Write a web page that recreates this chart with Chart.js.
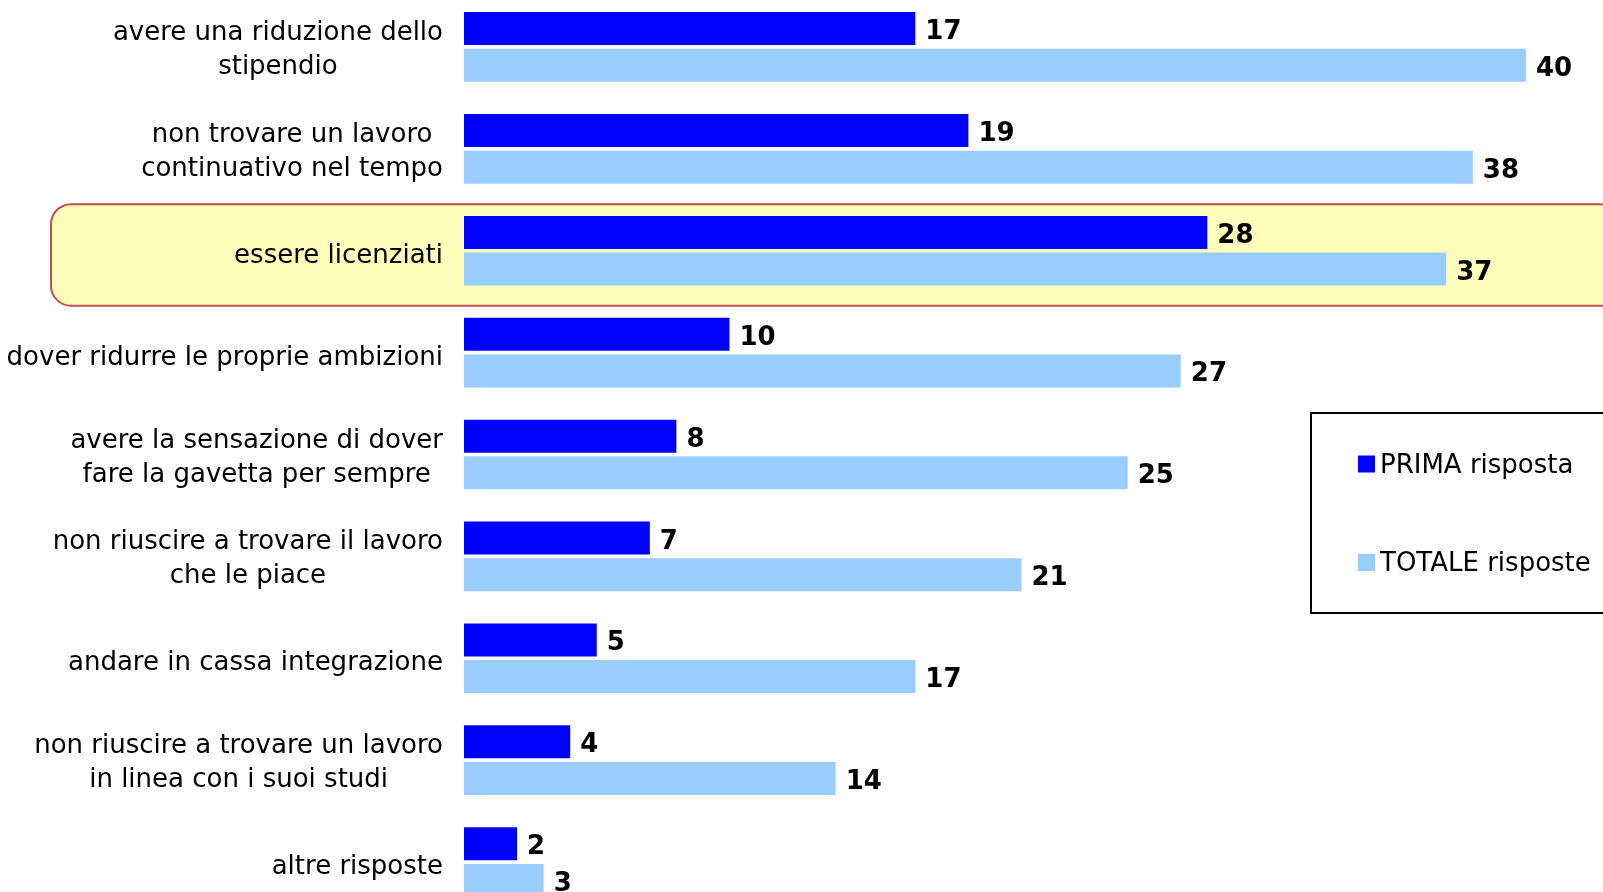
<!DOCTYPE html>
<html>
<head>
<meta charset="utf-8">
<script src="https://cdn.jsdelivr.net/npm/chart.js@4.4.1/dist/chart.umd.min.js"></script>
<style>
    html, body { margin: 0; padding: 0; background: #fff; overflow: hidden; }
    #wrap { position: absolute; left: 0; top: -4px; width: 1603px; height: 917px; }
</style>
</head>
<body>
<div id="wrap"><canvas id="chart" width="1603" height="917"></canvas></div>
<script>
// Data
const categories = [
    ['avere una riduzione dello', 'stipendio'],
    ['non trovare un lavoro', 'continuativo nel tempo'],
    ['essere licenziati'],
    ['dover ridurre le proprie ambizioni'],
    ['avere la sensazione di dover', 'fare la gavetta per sempre'],
    ['non riuscire a trovare il lavoro', 'che le piace'],
    ['andare in cassa integrazione'],
    ['non riuscire a trovare un lavoro', 'in linea con i suoi studi'],
    ['altre risposte']
];
const primaRisposta = [17, 19, 28, 10, 8, 7, 5, 4, 2];
const totaleRisposte = [40, 38, 37, 27, 25, 21, 17, 14, 3];
const seriesNames = ['PRIMA risposta', 'TOTALE risposte'];
const highlightIndex = 2;

const FONT = '"DejaVu Sans", Verdana, sans-serif';

// yellow rounded box behind the highlighted row
const highlightBox = {
    id: 'highlightBox',
    beforeDraw(chart) {
        const ctx = chart.ctx;
        const c = chart.scales.y.getPixelForValue(highlightIndex);
        const top = c - 46.5, bottom = c + 55;
        ctx.save();
        ctx.beginPath();
        ctx.roundRect(51, top, 1620 - 51, bottom - top, 20);
        ctx.fillStyle = '#FFFFBB';
        ctx.fill();
        ctx.lineWidth = 2;
        ctx.strokeStyle = '#C0504D';
        ctx.stroke();
        ctx.restore();
    }
};

// category labels: lines centred on each other, block right aligned
const categoryLabels = {
    id: 'categoryLabels',
    afterDraw(chart) {
        const ctx = chart.ctx;
        const yScale = chart.scales.y;
        const right = chart.chartArea.left - 21;
        ctx.save();
        ctx.font = '26px ' + FONT;
        ctx.fillStyle = '#000';
        ctx.textAlign = 'center';
        ctx.textBaseline = 'alphabetic';
        categories.forEach((lines, i) => {
            const c = yScale.getPixelForTick(i);
            const widest = Math.max(...lines.map(l => ctx.measureText(l).width));
            const cx = right - widest / 2;
            const shift = lines.length === 1 ? 12 : 10;
            lines.forEach((line, j) => {
                const y = c + shift + (j - (lines.length - 1) / 2) * 34;
                ctx.fillText(line, cx, y);
            });
        });
        ctx.restore();
    }
};

// bold value labels after each bar
const valueLabels = {
    id: 'valueLabels',
    afterDatasetsDraw(chart) {
        const ctx = chart.ctx;
        ctx.save();
        ctx.font = 'bold 26px ' + FONT;
        ctx.fillStyle = '#000';
        ctx.textAlign = 'left';
        ctx.textBaseline = 'alphabetic';
        chart.data.datasets.forEach((ds, di) => {
            chart.getDatasetMeta(di).data.forEach((bar, i) => {
                ctx.fillText(String(ds.data[i]), bar.x + 10, bar.y + 10.5);
            });
        });
        ctx.restore();
    }
};

// boxed legend on the right
const boxLegend = {
    id: 'boxLegend',
    afterDraw(chart) {
        const ctx = chart.ctx;
        const off = 4; // canvas is shifted up by 4px
        ctx.save();
        ctx.lineWidth = 2;
        ctx.strokeStyle = '#000';
        ctx.strokeRect(1311, 413 + off, 400, 200);
        ctx.font = '26px ' + FONT;
        ctx.textBaseline = 'alphabetic';
        ctx.textAlign = 'left';
        const baselines = [472.5, 571];
        chart.data.datasets.forEach((ds, i) => {
            const b = baselines[i] + off;
            ctx.fillStyle = ds.backgroundColor;
            ctx.fillRect(1358, b - 17, 17, 17);
            ctx.fillStyle = '#000';
            ctx.fillText(ds.label, 1380, b);
        });
        ctx.restore();
    }
};

new Chart(document.getElementById('chart'), {
    type: 'bar',
    data: {
        labels: categories,
        datasets: [
            {
                label: seriesNames[0],
                data: primaRisposta,
                backgroundColor: '#0000FF',
                categoryPercentage: 0.72,
                barPercentage: 0.9
            },
            {
                label: seriesNames[1],
                data: totaleRisposte,
                backgroundColor: '#99CCFF',
                categoryPercentage: 0.72,
                barPercentage: 0.9
            }
        ]
    },
    options: {
        indexAxis: 'y',
        responsive: false,
        animation: false,
        devicePixelRatio: 1,
        layout: { padding: { left: 0, right: 24, top: 0, bottom: 0 } },
        plugins: {
            legend: { display: false },
            tooltip: { enabled: false }
        },
        scales: {
            x: {
                display: false,
                min: 0,
                max: 42
            },
            y: {
                grid: { display: false },
                border: { display: false },
                ticks: { display: false },
                afterFit(scale) {
                    scale.width = 464;
                }
            }
        }
    },
    plugins: [highlightBox, categoryLabels, valueLabels, boxLegend]
});
</script>
</body>
</html>
